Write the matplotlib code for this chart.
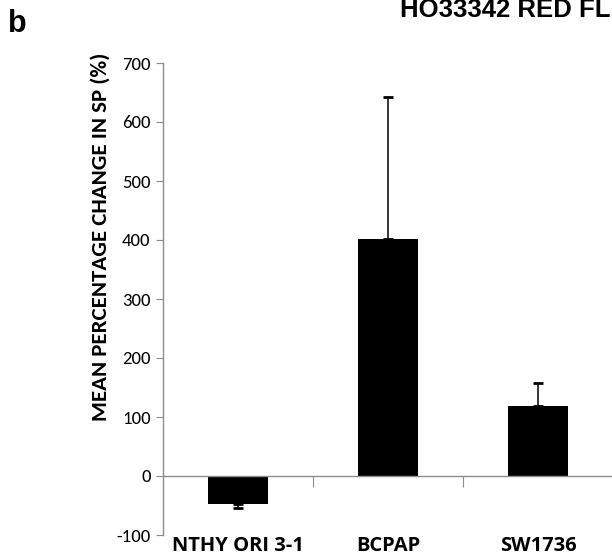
import matplotlib
matplotlib.use("Agg")
import matplotlib.pyplot as plt
from matplotlib import font_manager

categories = ["NTHY ORI 3-1", "BCPAP", "SW1736"]
values = [-47, 401, 119]
errors = [7, 241, 39]
yticks = [-100, 0, 100, 200, 300, 400, 500, 600, 700]

names = {f.name for f in font_manager.fontManager.ttflist}
narrow_font = None
for cand in ["Carlito", "Liberation Sans Narrow", "Open Sans Condensed",
             "Roboto Condensed", "PT Sans Narrow", "Fira Sans Condensed"]:
    if cand in names:
        narrow_font = dict(fontfamily=cand)
        break
if narrow_font is None:
    narrow_font = dict(fontfamily="DejaVu Sans", fontstretch="condensed")

W, H = 612, 559
fig = plt.figure(figsize=(W / 100, H / 100), dpi=100)
ax = fig.add_axes([163 / W, 24 / H, (613 - 163) / W, 472 / H])

x = list(range(len(categories)))
ax.bar(x, values, width=0.4, color="black", zorder=2)
for xi, v, e in zip(x, values, errors):
    yerr = [[0], [e]] if v >= 0 else [[e], [0]]
    ax.errorbar(xi, v, yerr=yerr, fmt="none", ecolor="black",
                elinewidth=1.1, capsize=3.5, capthick=2.0, zorder=3)

ax.set_xlim(-0.5, len(categories) - 0.5)
ax.set_ylim(-100, 700)
ax.set_yticks(yticks)
ax.set_yticklabels([str(t) for t in yticks], fontsize=13.5, **narrow_font)

for s in ["top", "right"]:
    ax.spines[s].set_visible(False)
for s in ["left", "bottom"]:
    ax.spines[s].set_color("#8c8c8c")
    ax.spines[s].set_linewidth(1.0)
ax.spines["bottom"].set_position(("data", 0))
ax.tick_params(axis="y", direction="out", length=5, color="#8c8c8c", pad=4)

# x tick marks at category boundaries, labels below the axes
ax.set_xticks([0.5, 1.5])
ax.set_xticklabels([])
ax.tick_params(axis="x", direction="out", length=8, color="#8c8c8c")
for xi, c in zip(x, categories):
    ax.text(xi, -118, c, ha="center", va="center", fontfamily="Open Sans",
            fontweight="bold", fontsize=14.5, clip_on=False)

fig.text(101 / W, 1 - 237 / H, "MEAN PERCENTAGE CHANGE IN SP (%)", rotation=90,
         ha="center", va="center", fontweight="bold", fontsize=16.5, **narrow_font)

fig.text(8 / W, 1 - 32 / H, "b", fontfamily="Liberation Sans", fontweight="bold",
         fontsize=22, va="baseline", ha="left")
fig.text(400 / W, 1 - 17 / H, "HO33342 RED FLUORESCENCE", fontfamily="Liberation Sans",
         fontweight="bold", fontsize=18.5, va="baseline", ha="left")

fig.savefig("out.png", dpi=100)
